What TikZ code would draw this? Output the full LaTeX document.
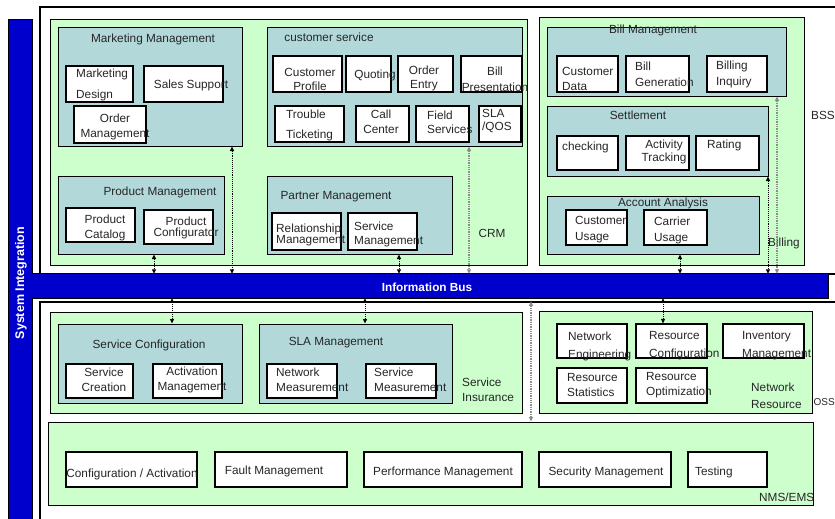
\documentclass[tikz,border=0pt]{standalone}
\usepackage{fontspec}
\setmainfont{Liberation Sans}
\usetikzlibrary{fit,arrows.meta}
\definecolor{grn}{RGB}{204,255,204}
\definecolor{tealc}{RGB}{178,216,218}
\definecolor{busblue}{RGB}{0,0,204}
\begin{document}
\begin{tikzpicture}[x=1pt,y=-1pt,
  frame/.style={draw,line width=1.4pt,fill=white,inner sep=0pt},
  gbox/.style={draw,line width=1pt,fill=grn,inner sep=0pt},
  tbox/.style={draw,line width=1pt,fill=tealc,inner sep=0pt},
  sbox/.style={draw,line width=1.2pt,fill=white,inner sep=0pt},
  lbl/.style={inner sep=0pt,text=black!85,font=\fontsize{11.8}{13}\selectfont,align=center},
  lbll/.style={lbl,align=left,anchor=west},
  wlbl/.style={inner sep=0pt,text=white,font=\fontsize{11.8}{13}\selectfont\bfseries},
  conn/.style={densely dotted,line width=0.9pt,{Triangle[length=4.5pt,width=4pt]}-{Triangle[length=4.5pt,width=4pt]}},
  conng/.style={conn,draw=black!45,line width=1.3pt}
]
\useasboundingbox (0,0) rectangle (835,519);
% outer frames
\node[frame,fit={(40,7)(900,274)}] (upper) {};
\node[frame,fit={(40,302)(900,560)}] (lower) {};
% green areas
\node[gbox,fit={(50,20)(527,265)}] (crm) {};
\node[gbox,fit={(539,18)(804,265)}] (bss) {};
\node[gbox,fit={(50,312)(522,413)}] (si) {};
\node[gbox,fit={(539,311)(812,413)}] (nr) {};
\node[gbox,fit={(48,422)(813,505)}] (nms) {};
% teal groups
\node[tbox,fit={(58,28)(242,146)}] (mm) {};
\node[tbox,fit={(58,176)(224,254)}] (pm) {};
\node[tbox,fit={(267,28)(522,146)}] (cs) {};
\node[tbox,fit={(267,176)(452,254)}] (ptm) {};
\node[tbox,fit={(547,28)(786,96)}] (bm) {};
\node[tbox,fit={(547,106)(768,176)}] (st) {};
\node[tbox,fit={(547,196)(759,254)}] (aa) {};
\node[tbox,fit={(58,324)(242,403)}] (sc) {};
\node[tbox,fit={(259,324)(452,403)}] (slam) {};
% white sub boxes
\node[sbox,fit={(66,66)(133,102)}] (md) {};
\node[sbox,fit={(144,66)(223,102)}] (ss) {};
\node[sbox,fit={(74,106)(146,143)}] (om) {};
\node[sbox,fit={(66,208)(135,242)}] (pc) {};
\node[sbox,fit={(144,210)(213,244)}] (pcf) {};
\node[sbox,fit={(273,56)(342,92)}] (cp) {};
\node[sbox,fit={(346,56)(391,92)}] (qt) {};
\node[sbox,fit={(398,56)(453,92)}] (oe) {};
\node[sbox,fit={(461,56)(522,92)}] (bp) {};
\node[sbox,fit={(275,106)(344,142)}] (tt) {};
\node[sbox,fit={(356,106)(409,142)}] (cc) {};
\node[sbox,fit={(416,106)(469,142)}] (fs) {};
\node[sbox,fit={(479,106)(521,142)}] (sla) {};
\node[sbox,fit={(272,213)(341,250)}] (rm) {};
\node[sbox,fit={(348,213)(417,250)}] (smg) {};
\node[sbox,fit={(557,56)(618,92)}] (cd) {};
\node[sbox,fit={(626,56)(689,92)}] (bg) {};
\node[sbox,fit={(707,56)(767,92)}] (bi) {};
\node[sbox,fit={(557,136)(618,170)}] (ck) {};
\node[sbox,fit={(626,136)(689,170)}] (at) {};
\node[sbox,fit={(696,136)(759,170)}] (rt) {};
\node[sbox,fit={(566,210)(627,245)}] (cu) {};
\node[sbox,fit={(644,210)(707,245)}] (cru) {};
\node[sbox,fit={(66,364)(133,398)}] (scr) {};
\node[sbox,fit={(153,364)(222,398)}] (am) {};
\node[sbox,fit={(267,364)(337,398)}] (nmeas) {};
\node[sbox,fit={(366,364)(436,398)}] (smeas) {};
\node[sbox,fit={(557,324)(627,358)}] (ne) {};
\node[sbox,fit={(636,324)(707,358)}] (rc) {};
\node[sbox,fit={(723,324)(804,358)}] (im) {};
\node[sbox,fit={(557,368)(627,403)}] (rs) {};
\node[sbox,fit={(636,368)(707,403)}] (ro) {};
\node[sbox,fit={(66,452)(197,487)}] (ca) {};
\node[sbox,fit={(215,452)(347,487)}] (fm) {};
\node[sbox,fit={(364,452)(522,487)}] (pf) {};
\node[sbox,fit={(539,452)(671,487)}] (sm) {};
\node[sbox,fit={(688,452)(767,487)}] (ts) {};
% group titles
\node[lbl] (tmm) at (153,39) {Marketing Management};
\node[lbl] (tpm) at (160,192) {Product Management};
\node[lbl] (tcs) at (329,37) {customer service};
\node[lbl] (tptm) at (336,197) {Partner Management};
\node[lbl] (tcrm) at (492,233) {CRM};
\node[lbl] (tbm) at (653,30) {Bill Management};
\node[lbl] (tst) at (638,115) {Settlement};
\node[lbl] (taa) at (663,203) {Account Analysis};
\node[lbll] (tbss) at (811,115) {BSS};
\node[lbll] (tbil) at (768,243) {Billing};
\node[lbl] (tsc) at (149,345) {Service Configuration};
\node[lbl] (tsla) at (336,343) {SLA Management};
\node[lbll] (tsi) at (462,390) {Service\\[2pt]Insurance};
\node[lbll] (tnr) at (751,396) {Network\\[4pt]Resource};
\node[lbll,font=\fontsize{10}{12}\selectfont] (toss) at (813.5,402) {OSS};
\node[lbll] (tnms) at (759,497) {NMS/EMS};
% sub labels
\node[lbll] (lmd) at (76,85) {Marketing\\[8pt]Design};
\node[lbl] (lss) at (191,85) {Sales Support};
\node[lbl] (lom) at (115,127) {Order\\[2pt]Management};
\node[lbl] (lpc) at (105,228) {Product\\[2pt]Catalog};
\node[lbl] (lpcf) at (186,228) {Product\\[-2pt]Configurator};
\node[lbl] (lcp) at (310,79) {Customer\\[1pt]Profile};
\node[lbl] (lqt) at (375,75) {Quoting};
\node[lbl] (loe) at (424,78) {Order\\[1pt]Entry};
\node[lbl] (lbp) at (495,79) {Bill\\[3pt]Presentation};
\node[lbll] (ltt) at (286,125) {Trouble\\[7pt]Ticketing};
\node[lbl] (lcc) at (381,122) {Call\\[2pt]Center};
\node[lbll] (lfs) at (427,122) {Field\\[1pt]Services};
\node[lbll] (lsla) at (482,121) {SLA\\/QOS};
\node[lbll] (lrm) at (276,235) {Relationship\\[-2pt]Management};
\node[lbll] (lsmg) at (354,234) {Service\\[1pt]Management};
\node[lbll] (lcd) at (562,79) {Customer\\[2pt]Data};
\node[lbll] (lbg) at (635,74) {Bill\\[3pt]Generation};
\node[lbll] (lbi) at (716,74) {Billing\\[3pt]Inquiry};
\node[lbll] (lck) at (562,147) {checking};
\node[lbl] (lat) at (664,152) {Activity\\Tracking};
\node[lbll] (lrt) at (707,145) {Rating};
\node[lbll] (lcu) at (575,230) {Customer\\[3pt]Usage};
\node[lbll] (lcru) at (654,230) {Carrier\\[3pt]Usage};
\node[lbl] (lscr) at (104,380) {Service\\[2pt]Creation};
\node[lbl] (lam) at (192,380) {Activation\\[2pt]Management};
\node[lbll] (lnmeas) at (276,380) {Network\\[2pt]Measurement};
\node[lbll] (lsmeas) at (374,380) {Service\\[2pt]Measurement};
\node[lbll] (lne) at (568,346) {Network\\[5pt]Engineering};
\node[lbll] (lrc) at (649,346) {Resource\\[5pt]Configuration};
\node[lbll] (lim) at (742,346) {Inventory\\[5pt]Management};
\node[lbll] (lrs) at (567,385) {Resource\\[2pt]Statistics};
\node[lbll] (lro) at (646,385) {Resource\\[2pt]Optimization};
\node[lbl] (lca) at (132,474) {Configuration / Activation};
\node[lbl] (lfm) at (274,471) {Fault Management};
\node[lbl] (lpf) at (443,472) {Performance Management};
\node[lbl] (lsm) at (606,472) {Security Management};
\node[lbll] (lts) at (695,472) {Testing};
% system integration bar and information bus
\node[fill=busblue,inner sep=0pt,fit={(9,20)(32,540)}] (bar) {};
\node[fill=busblue,inner sep=0pt,fit={(31,274)(828,298)}] (bus) {};
\draw[line width=1pt] (bar.north west) -- (bar.north east) -- (bar.east |- bus.north)
  -- (bus.north east) -- (bus.south east) -- (bar.east |- bus.south)
  -- (bar.south east) -- (bar.south west) -- cycle;
\node[wlbl] (lbus) at (427,287) {Information Bus};
\node[wlbl,rotate=90,font=\fontsize{12.5}{14}\selectfont\bfseries] (lsys) at (21,283) {System Integration};
% connectors
\coordinate (x154) at (154,0);
\coordinate (x232) at (232,0);
\coordinate (x399) at (399,0);
\coordinate (x469) at (469,0);
\coordinate (x680) at (680,0);
\coordinate (x768) at (768,0);
\coordinate (x777) at (777,0);
\coordinate (x172) at (172,0);
\coordinate (x365) at (365,0);
\coordinate (x663) at (663,0);
\coordinate (x531) at (531,0);
\draw[conn] (mm.south -| x232) -- (bus.north -| x232);
\draw[conn] (pm.south -| x154) -- (bus.north -| x154);
\draw[conn] (ptm.south -| x399) -- (bus.north -| x399);
\draw[conng] (cs.south -| x469) -- (bus.north -| x469);
\draw[conn] (aa.south -| x680) -- (bus.north -| x680);
\draw[conn] (st.south -| x768) -- (bus.north -| x768);
\draw[conng] (bm.south -| x777) -- (bus.north -| x777);
\draw[conn] (bus.south -| x172) -- (sc.north -| x172);
\draw[conn] (bus.south -| x365) -- (slam.north -| x365);
\draw[conn] (bus.south -| x663) -- (rc.north -| x663);
\draw[conng] (lower.north -| x531) -- (nms.north -| x531);
\end{tikzpicture}
\end{document}
